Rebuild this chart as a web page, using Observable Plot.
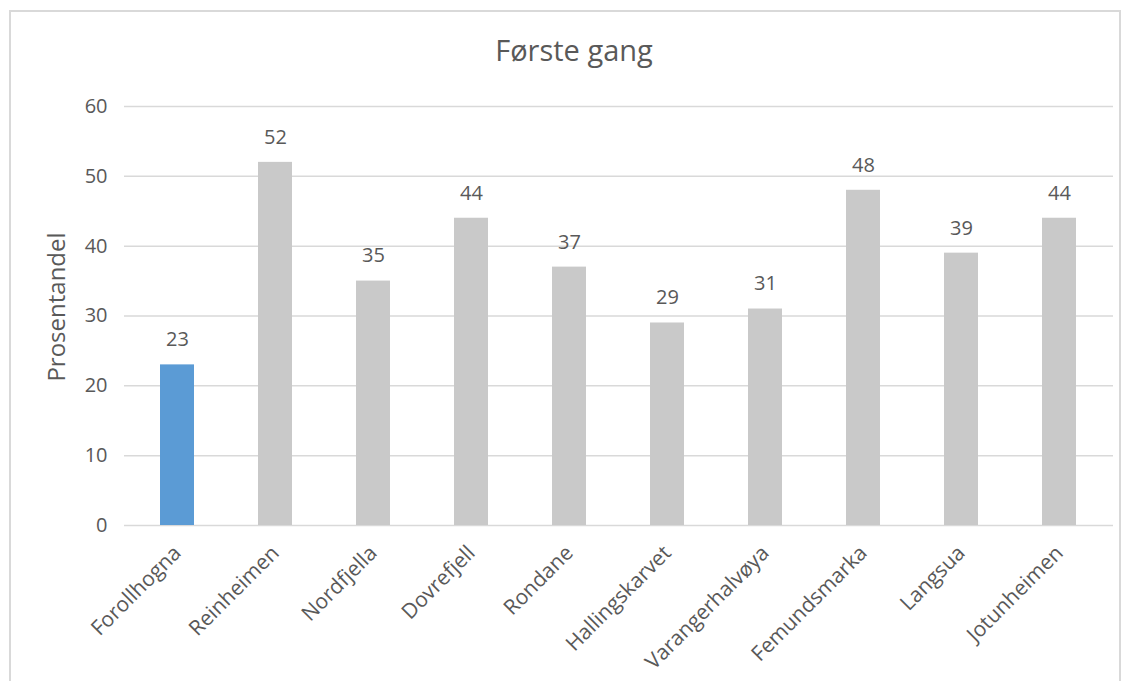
<!DOCTYPE html>
<html>
<head>
<meta charset="utf-8">
<script src="https://cdn.jsdelivr.net/npm/d3@7"></script>
<script src="https://cdn.jsdelivr.net/npm/@observablehq/plot@0.6"></script>
<style>
  html, body { margin: 0; padding: 0; background: #fff; width: 1130px; height: 681px; overflow: hidden; }
  #frame { position: absolute; left: 9px; top: 10px; width: 1112px; height: 680px; border: 2px solid #d9d9d9; box-sizing: border-box; }
  #title { position: absolute; left: 0; top: 30px; width: 1148px; text-align: center; font-family: "Open Sans", sans-serif; font-size: 29px; line-height: 40px; color: #595959; }
  #chart { position: absolute; left: 0; top: 81px; }
</style>
</head>
<body>
<div id="frame"></div>
<div id="title">Første gang</div>
<div id="chart"></div>
<script>
const categories = ["Forollhogna","Reinheimen","Nordfjella","Dovrefjell","Rondane","Hallingskarvet","Varangerhalvøya","Femundsmarka","Langsua","Jotunheimen"];
const values = [23, 52, 35, 44, 37, 29, 31, 48, 39, 44];
const yTicks = [0, 10, 20, 30, 40, 50, 60];
const yLabel = ["Prosentandel"];
const highlight = "Forollhogna";

const data = categories.map((c, i) => ({category: c, value: values[i]}));

const plot = Plot.plot({
  width: 1130,
  height: 600,
  marginTop: 25,
  marginBottom: 156,
  marginLeft: 124,
  marginRight: 17,
  style: {fontFamily: "'Open Sans', sans-serif", color: "#595959", background: "transparent"},
  x: {domain: categories, paddingInner: 0.65, paddingOuter: 0.325, label: null},
  y: {domain: [0, 60], label: null},
  marks: [
    Plot.gridY(yTicks, {stroke: "#d9d9d9", strokeOpacity: 1, strokeWidth: 1.5}),
    Plot.barY(data, {x: "category", y: "value", fill: d => d.category === highlight ? "#5B9BD5" : "#C9C9C9"}),
    Plot.text(data, {x: "category", y: "value", text: d => String(d.value), dy: -25, fontSize: 20, fill: "#595959"}),
    Plot.axisY({ticks: yTicks, tickSize: 0, tickPadding: 17, fontSize: 20, label: null}),
    Plot.axisX({tickSize: 0, tickPadding: 24, tickRotate: -45, fontSize: 21, label: null}),
    Plot.text(yLabel, {frameAnchor: "left", textAnchor: "middle", dx: -67, dy: -9, rotate: -90, text: d => d, fontSize: 24, fill: "#595959"})
  ]
});
document.getElementById("chart").appendChild(plot);
</script>
</body>
</html>
